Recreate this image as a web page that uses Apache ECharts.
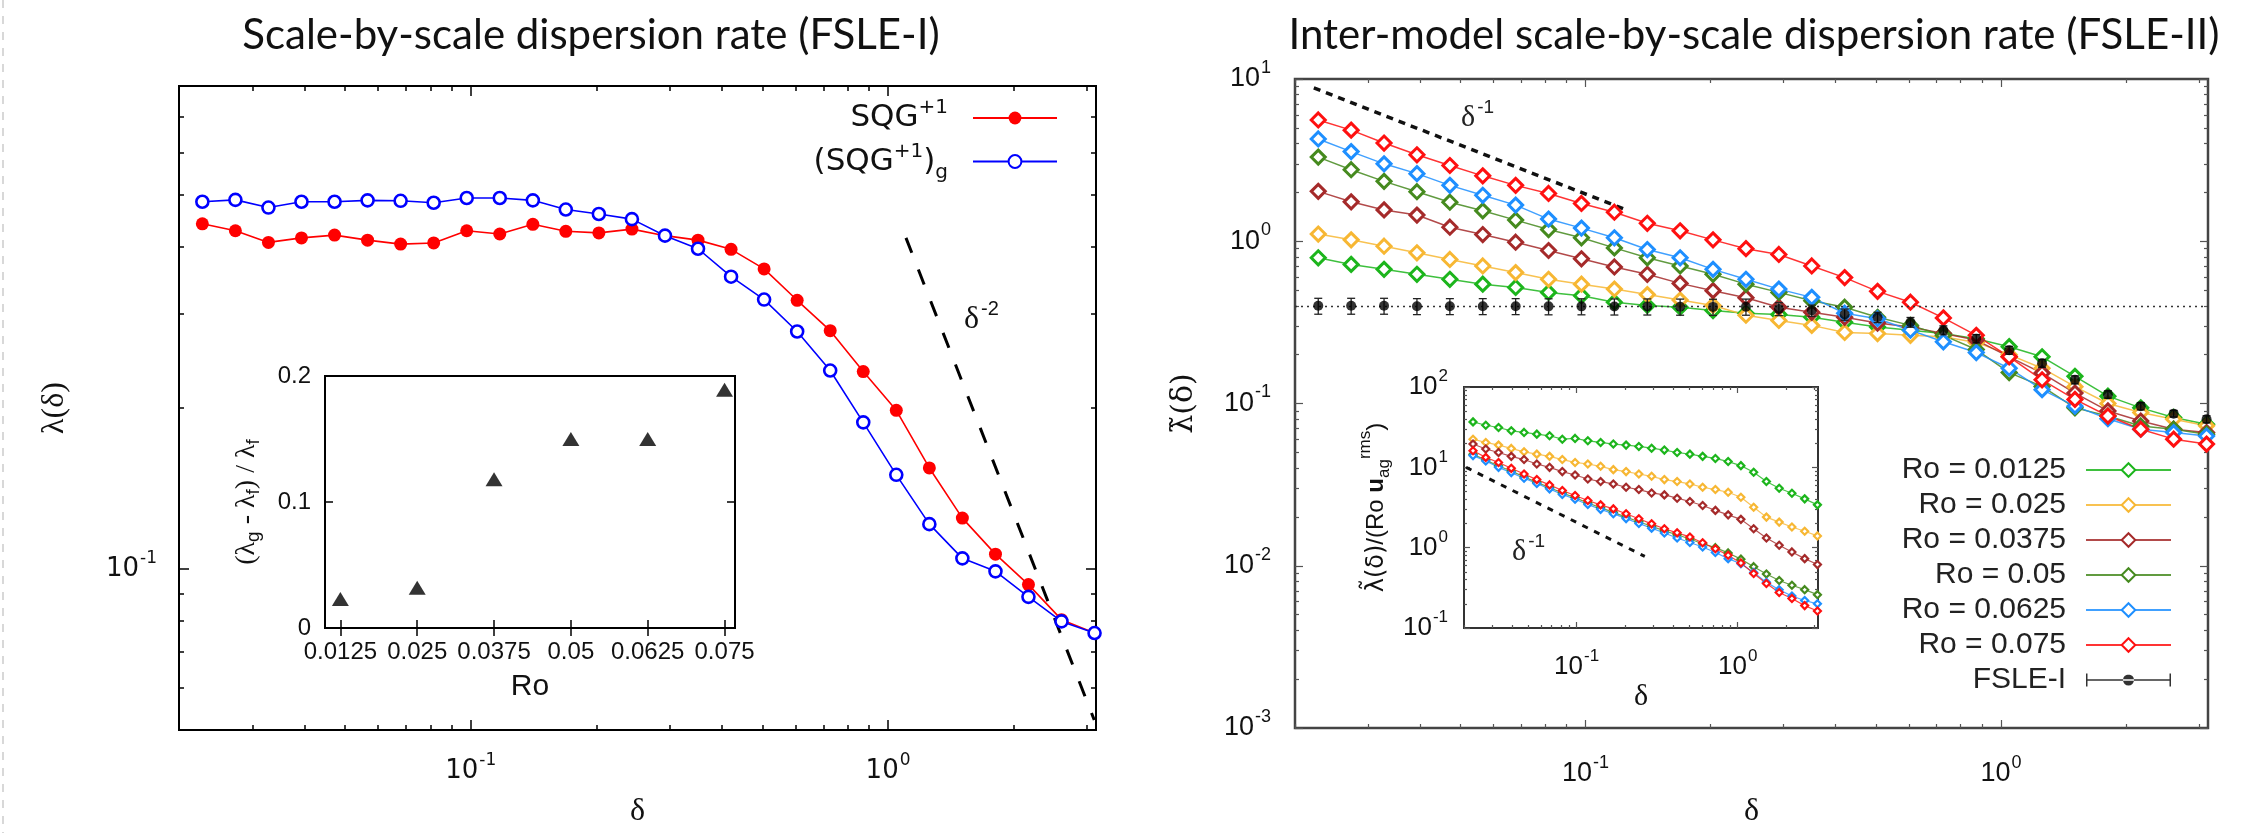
<!DOCTYPE html>
<html><head><meta charset="utf-8">
<script src="https://cdn.jsdelivr.net/npm/echarts@6/dist/echarts.min.js"></script>
<style>html,body{margin:0;padding:0;background:#fff}#c{width:2258px;height:833px}</style>
</head><body><div id="c"></div>
<script>
// ---------------- data ----------------
const delta = [0.02275, 0.0273, 0.03276, 0.03931, 0.04718, 0.05661, 0.06793, 0.08152, 0.09782, 0.1174, 0.1409, 0.169, 0.2028, 0.2434, 0.2921, 0.3505, 0.4206, 0.5047, 0.6057, 0.7268, 0.8722, 1.0466, 1.256, 1.507, 1.809, 2.17, 2.604, 3.125];
// left panel (FSLE-I)
const sqg  = [0.442, 0.429, 0.408, 0.416, 0.421, 0.412, 0.405, 0.407, 0.429, 0.423, 0.441, 0.428, 0.425, 0.432, 0.420, 0.412, 0.396, 0.364, 0.318, 0.279, 0.234, 0.198, 0.1545, 0.1245, 0.1066, 0.0935, 0.0804, 0.0759];
const sqgG = [0.486, 0.490, 0.474, 0.486, 0.486, 0.489, 0.488, 0.484, 0.494, 0.494, 0.489, 0.470, 0.461, 0.451, 0.420, 0.397, 0.352, 0.319, 0.278, 0.235, 0.188, 0.150, 0.1213, 0.1047, 0.099, 0.0887, 0.0798, 0.0759];
const slopeLeft = [[1.104, 0.416], [3.12, 0.0522]];
// left inset
const insetRo   = [0.0125, 0.025, 0.0375, 0.05, 0.0625, 0.075];
const insetDiff = [0.023, 0.032, 0.118, 0.15, 0.15, 0.189];
const insetRoTicks = [0.0125, 0.025, 0.0375, 0.05, 0.0625, 0.075];
const insetDiffTicks = [0, 0.1, 0.2];
// right panel (FSLE-II)
const roNames = ['Ro = 0.0125', 'Ro = 0.025', 'Ro = 0.0375', 'Ro = 0.05', 'Ro = 0.0625', 'Ro = 0.075'];
const roColors = ['#1cb51c', '#f7b733', '#a52a2a', '#458a1e', '#1e8fff', '#ff1010'];
const ro0125 = [0.791, 0.72, 0.671, 0.626, 0.583, 0.544, 0.519, 0.484, 0.462, 0.421, 0.402, 0.392, 0.374, 0.36, 0.354, 0.34, 0.317, 0.296, 0.283, 0.27, 0.251, 0.224, 0.194, 0.147, 0.111, 0.094, 0.082, 0.0744];
const ro025  = [1.108, 1.02, 0.932, 0.849, 0.772, 0.704, 0.641, 0.583, 0.544, 0.507, 0.469, 0.434, 0.402, 0.35, 0.325, 0.303, 0.274, 0.27, 0.263, 0.258, 0.238, 0.2, 0.165, 0.127, 0.1, 0.088, 0.08, 0.073];
const ro0375 = [2.03, 1.75, 1.56, 1.45, 1.22, 1.10, 0.986, 0.877, 0.78, 0.694, 0.626, 0.55, 0.496, 0.449, 0.392, 0.365, 0.34, 0.313, 0.296, 0.27, 0.246, 0.194, 0.154, 0.116, 0.09, 0.078, 0.0694, 0.0662];
const ro05   = [3.30, 2.76, 2.34, 2.02, 1.74, 1.54, 1.35, 1.18, 1.05, 0.91, 0.791, 0.704, 0.626, 0.544, 0.484, 0.43, 0.392, 0.34, 0.303, 0.263, 0.215, 0.155, 0.1275, 0.094, 0.0837, 0.0727, 0.0694, 0.0647];
const ro0625 = [4.27, 3.57, 3.00, 2.61, 2.21, 1.92, 1.67, 1.37, 1.205, 1.05, 0.889, 0.791, 0.671, 0.583, 0.507, 0.451, 0.36, 0.333, 0.283, 0.24, 0.206, 0.165, 0.1217, 0.0963, 0.0806, 0.0694, 0.0662, 0.063];
const ro075  = [5.59, 4.84, 4.03, 3.41, 2.93, 2.53, 2.21, 1.97, 1.71, 1.51, 1.29, 1.16, 1.02, 0.90, 0.829, 0.704, 0.597, 0.491, 0.421, 0.337, 0.263, 0.194, 0.140, 0.106, 0.0837, 0.0694, 0.0603, 0.0562];
const fsle    = [0.40, 0.40, 0.40, 0.398, 0.398, 0.398, 0.398, 0.397, 0.397, 0.396, 0.396, 0.395, 0.394, 0.395, 0.383, 0.374, 0.354, 0.34, 0.317, 0.283, 0.251, 0.213, 0.177, 0.14, 0.1137, 0.0963, 0.0866, 0.080];
const fsleErr = [0.045, 0.045, 0.045, 0.045, 0.045, 0.045, 0.045, 0.045, 0.045, 0.045, 0.045, 0.045, 0.045, 0.045, 0.035, 0.03, 0.028, 0.025, 0.022, 0.018, 0.015, 0.012, 0.01, 0.008, 0.006, 0.005, 0.004, 0.004];
const fslePlateau = 0.4;
const slopeRight = [[0.0222, 8.81], [0.127, 1.54]];
// right inset (normalised)
const in0125 = [36.8, 33.4, 31.3, 28.5, 27.2, 25.9, 24.7, 22.4, 22.9, 21.4, 20.4, 19.5, 18.9, 18.2, 17.3, 16.4, 15.3, 14.6, 13.7, 12.9, 11.8, 10.5, 8.67, 6.65, 5.5, 4.76, 4.05, 3.41];
const in025  = [22.4, 20.4, 18.9, 17.2, 15.6, 14.6, 13.7, 12.5, 11.5, 11.0, 10.3, 9.36, 8.85, 8.26, 7.73, 7.04, 6.65, 6.21, 5.65, 5.29, 4.9, 4.25, 3.19, 2.4, 2.08, 1.81, 1.6, 1.4];
const in0375 = [19.5, 16.9, 15.3, 13.7, 12.5, 11.0, 10.0, 8.85, 8.03, 7.16, 6.65, 6.21, 5.65, 5.29, 4.8, 4.54, 4.13, 3.76, 3.35, 2.91, 2.56, 2.25, 1.72, 1.32, 1.07, 0.885, 0.73, 0.616];
const in05   = [14.5, 12.3, 10.4, 9.0, 7.6, 6.5, 5.6, 4.8, 4.2, 3.6, 3.15, 2.75, 2.4, 2.1, 1.85, 1.62, 1.45, 1.28, 1.12, 1.0, 0.86, 0.72, 0.58, 0.47, 0.39, 0.34, 0.3, 0.26];
const in0625 = [14.0, 12.0, 10.0, 8.6, 7.3, 6.3, 5.4, 4.6, 4.0, 3.45, 3.0, 2.65, 2.3, 2.0, 1.75, 1.52, 1.32, 1.16, 1.02, 0.87, 0.73, 0.63, 0.49, 0.37, 0.3, 0.25, 0.22, 0.2];
const in075  = [16.1, 13.3, 11.5, 9.72, 8.26, 7.04, 6.04, 5.14, 4.46, 3.87, 3.41, 3.04, 2.64, 2.29, 1.98, 1.72, 1.53, 1.36, 1.15, 0.97, 0.805, 0.646, 0.477, 0.358, 0.277, 0.233, 0.19, 0.163];
const slopeInset = [[0.0206, 10], [0.265, 0.778]];
// tick labels
const deltaLabels = [0.1, 1];
const leftYLabels = [0.1];
const rightYLabels = [0.001, 0.01, 0.1, 1, 10];
const insetYLabels = [0.1, 1, 10, 100];

// ---------------- helpers ----------------
function minorLog(lo, hi) {
  const out = [];
  for (let e = -4; e <= 2; e++) for (let k = 2; k <= 9; k++) {
    const v = +(k * Math.pow(10, e)).toPrecision(3);
    if (v >= lo * 0.999 && v <= hi * 1.001) out.push(v);
  }
  return out;
}
function powFmt(v) { const e = Math.round(Math.log10(v)); return '{b|10}{s|' + (e < 0 ? '-' + (-e) : e) + '}'; }
function powRich(fs, ff) {
  return { b: { fontSize: fs, fontFamily: ff, color: '#111' }, s: { fontSize: Math.round(fs * 0.66), fontFamily: ff, color: '#111', padding: [0, 0, Math.round(fs * 0.8), 1] } };
}
const xAxes = [], yAxes = [];
function addAxes(list, dim, grid, o) {
  const pos = dim === 'x' ? ['bottom', 'top'] : ['left', 'right'];
  const startIdx = list.length;
  pos.forEach((p, pi) => {
    [true, false].forEach(isMajor => {
      const main = pi === 0 && isMajor;
      const ax = {
        type: o.type, gridIndex: grid, position: p, min: o.min, max: o.max,
        axisLine: { show: false }, splitLine: { show: false }, minorTick: { show: false },
        axisTick: { show: true, inside: true, length: isMajor ? o.majorLen : o.minorLen,
          customValues: isMajor ? o.major : o.minor, lineStyle: { color: o.tickColor, width: o.tickWidth } },
        axisLabel: { show: false }, axisPointer: { show: false }
      };
      if (o.type === 'log') ax.logBase = 10;
      if (main) {
        ax.axisLabel = { show: true, customValues: o.labels, formatter: o.fmt, margin: o.margin,
          rich: o.rich, fontSize: o.fs, fontFamily: o.ff, color: '#111' };
        if (o.name) {
          ax.name = o.name; ax.nameLocation = 'middle'; ax.nameGap = o.nameGap;
          if (dim === 'y') ax.nameRotate = 90;
          ax.nameTextStyle = Object.assign({ color: '#111' }, o.nameStyle);
        }
      }
      list.push(ax);
    });
  });
  return startIdx;
}
const serif = 'Liberation Serif';
const sans = 'Liberation Sans';
const deltaName = { fontSize: 32, fontFamily: serif };

// grid 0 : left main
const LX = addAxes(xAxes, 'x', 0, { type: 'log', min: 0.02, max: 3.15, major: [0.1, 1], minor: minorLog(0.02, 3.15), labels: deltaLabels,
  majorLen: 10, minorLen: 5, tickColor: '#000', tickWidth: 1.5, fmt: powFmt, rich: powRich(26, 'DejaVu Sans'), margin: 22,
  name: 'δ', nameGap: 66, nameStyle: deltaName });
const LY = addAxes(yAxes, 'y', 0, { type: 'log', min: 0.05, max: 0.8, major: [0.1], minor: minorLog(0.05, 0.8), labels: leftYLabels,
  majorLen: 10, minorLen: 5, tickColor: '#000', tickWidth: 1.5, fmt: powFmt, rich: powRich(26, 'DejaVu Sans'), margin: 22,
  name: 'λ(δ)', nameGap: 108, nameStyle: { fontSize: 32, fontFamily: serif } });
// grid 1 : left inset
const IX = addAxes(xAxes, 'x', 1, { type: 'value', min: 0.01, max: 0.0767, major: insetRoTicks, minor: [], labels: insetRoTicks,
  majorLen: 8, minorLen: 0, tickColor: '#000', tickWidth: 1.5, fmt: v => String(v), fs: 24, ff: sans, margin: 12,
  name: 'Ro', nameGap: 44, nameStyle: { fontSize: 30, fontFamily: sans } });
const IY = addAxes(yAxes, 'y', 1, { type: 'value', min: 0, max: 0.2, major: insetDiffTicks, minor: [], labels: insetDiffTicks,
  majorLen: 8, minorLen: 0, tickColor: '#000', tickWidth: 1.5, fmt: v => String(v), fs: 24, ff: sans, margin: 14,
  name: '(λ{sub|g} - λ{sub|f}) / λ{sub|f}', nameGap: 62,
  nameStyle: { fontSize: 28, fontFamily: serif, rich: { sub: { fontSize: 19, fontFamily: sans, padding: [14, 0, 0, 0] } } } });
// grid 2 : right main
const RX = addAxes(xAxes, 'x', 2, { type: 'log', min: 0.02, max: 3.15, major: [0.1, 1], minor: minorLog(0.02, 3.15), labels: deltaLabels,
  majorLen: 8, minorLen: 4, tickColor: '#555', tickWidth: 1.2, fmt: powFmt, rich: powRich(27, sans), margin: 26,
  name: 'δ', nameGap: 68, nameStyle: deltaName });
const RY = addAxes(yAxes, 'y', 2, { type: 'log', min: 0.001, max: 10, major: rightYLabels, minor: minorLog(0.001, 10), labels: rightYLabels,
  majorLen: 8, minorLen: 4, tickColor: '#555', tickWidth: 1.2, fmt: powFmt, rich: powRich(27, sans), margin: 24,
  name: 'λ\u0303(δ)', nameGap: 96, nameStyle: { fontSize: 30, fontFamily: 'DejaVu Serif' } });
// grid 3 : right inset
const JX = addAxes(xAxes, 'x', 3, { type: 'log', min: 0.02, max: 3.15, major: [0.1, 1], minor: minorLog(0.02, 3.15), labels: deltaLabels,
  majorLen: 6, minorLen: 3, tickColor: '#555', tickWidth: 1.2, fmt: powFmt, rich: powRich(26, sans), margin: 20,
  name: 'δ', nameGap: 54, nameStyle: { fontSize: 30, fontFamily: serif } });
const JY = addAxes(yAxes, 'y', 3, { type: 'log', min: 0.1, max: 100, major: insetYLabels, minor: minorLog(0.1, 100), labels: insetYLabels,
  majorLen: 6, minorLen: 3, tickColor: '#555', tickWidth: 1.2, fmt: powFmt, rich: powRich(26, sans), margin: 16,
  name: '{g|λ\u0303(δ)}{t|/(Ro }{b|u}{sub|ag}{sup|rms}{t|)}', nameGap: 68,
  nameStyle: { rich: {
    g: { fontSize: 24, fontFamily: 'DejaVu Sans', color: '#111' },
    t: { fontSize: 24, fontFamily: sans, color: '#111' },
    b: { fontSize: 24, fontFamily: sans, fontWeight: 'bold', color: '#111' },
    sub: { fontSize: 17, fontFamily: sans, color: '#111', padding: [16, 0, 0, 0] },
    sup: { fontSize: 17, fontFamily: sans, color: '#111', padding: [0, 0, 22, 0] } } } });

const pts = arr => delta.map((d, i) => [d, arr[i]]);
const series = [];
// left main
series.push({ name: 'SQG+1', type: 'line', xAxisIndex: LX, yAxisIndex: LY, data: pts(sqg), symbol: 'circle', symbolSize: 13,
  itemStyle: { color: '#ff0000' }, lineStyle: { color: '#ff0000', width: 1.6 }, z: 3 });
series.push({ name: '(SQG+1)g', type: 'line', xAxisIndex: LX, yAxisIndex: LY, data: pts(sqgG), symbol: 'circle', symbolSize: 12,
  itemStyle: { color: '#ffffff', borderColor: '#0000ff', borderWidth: 2.6 }, lineStyle: { color: '#0000ff', width: 1.6 }, z: 4 });
series.push({ name: 'slopeL', type: 'line', xAxisIndex: LX, yAxisIndex: LY, data: slopeLeft, symbol: 'none', silent: true,
  lineStyle: { color: '#000', width: 3, type: [16, 18] }, z: 2 });
// left inset
series.push({ name: 'diff', type: 'scatter', xAxisIndex: IX, yAxisIndex: IY, data: insetRo.map((r, i) => [r, insetDiff[i]]),
  symbol: 'triangle', symbolSize: [17, 14], itemStyle: { color: '#000' } });
// right main
const mainArrs = [ro0125, ro025, ro0375, ro05, ro0625, ro075];
const insetArrs = [in0125, in025, in0375, in05, in0625, in075];
mainArrs.forEach((arr, k) => {
  series.push({ name: roNames[k], type: 'line', xAxisIndex: RX, yAxisIndex: RY, data: pts(arr), symbol: 'diamond', symbolSize: 14,
    itemStyle: { color: '#ffffff', borderColor: roColors[k], borderWidth: 3 }, lineStyle: { color: roColors[k], width: 1.5, opacity: 0.85 }, z: 3 });
});
series.push({ name: 'slopeR', type: 'line', xAxisIndex: RX, yAxisIndex: RY, data: slopeRight, symbol: 'none', silent: true,
  lineStyle: { color: '#111', width: 3.5, type: [7, 6] }, z: 2 });
series.push({ name: 'err', type: 'custom', xAxisIndex: RX, yAxisIndex: RY, z: 5, silent: true,
  data: delta.map((d, i) => [d, fsle[i] - fsleErr[i], fsle[i] + fsleErr[i]]),
  encode: { x: 0, y: [1, 2] },
  renderItem: (params, api) => {
    const x = api.value(0), lo = api.value(1), hi = api.value(2);
    const a = api.coord([x, hi]), b = api.coord([x, lo]);
    const w = 4, st = { stroke: '#222', lineWidth: 1.3 };
    return { type: 'group', children: [
      { type: 'line', shape: { x1: a[0], y1: a[1], x2: b[0], y2: b[1] }, style: st },
      { type: 'line', shape: { x1: a[0] - w, y1: a[1], x2: a[0] + w, y2: a[1] }, style: st },
      { type: 'line', shape: { x1: b[0] - w, y1: b[1], x2: b[0] + w, y2: b[1] }, style: st } ] };
  } });
series.push({ name: 'FSLE-I', type: 'scatter', xAxisIndex: RX, yAxisIndex: RY, data: pts(fsle), symbol: 'circle', symbolSize: 10,
  itemStyle: { color: '#000' }, z: 6,
  markLine: { silent: true, symbol: ['none', 'none'], label: { show: false },
    lineStyle: { color: '#333', type: [2, 4], width: 1.3 }, data: [{ yAxis: fslePlateau }] } });
// right inset
insetArrs.forEach((arr, k) => {
  series.push({ name: 'in ' + roNames[k], type: 'line', xAxisIndex: JX, yAxisIndex: JY, data: pts(arr), symbol: 'diamond', symbolSize: 7,
    itemStyle: { color: '#ffffff', borderColor: roColors[k], borderWidth: 2.2 }, lineStyle: { color: roColors[k], width: 1.2, opacity: 0.8 }, z: 3 });
});
series.push({ name: 'slopeI', type: 'line', xAxisIndex: JX, yAxisIndex: JY, data: slopeInset, symbol: 'none', silent: true,
  lineStyle: { color: '#111', width: 3, type: [6, 7] }, z: 2 });

const legendRichL = {
  t: { fontSize: 31, fontFamily: 'DejaVu Sans', color: '#111' },
  sup: { fontSize: 20, fontFamily: 'DejaVu Sans', color: '#111', padding: [0, 0, 20, 0] },
  sub: { fontSize: 20, fontFamily: 'DejaVu Sans', color: '#111', padding: [22, 0, 0, 0] },
  gap: { width: 20 }
};
const legendLabelL = { 'SQG+1': '{t|SQG}{sup|+1}{gap|}', '(SQG+1)g': '{t|(SQG}{sup|+1}{t|)}{sub|g}{gap|}' };
const fsleIcon = 'path://M0,7.75h85v1.5h-85z M0,2h1.5v13h-1.5z M83.5,2h1.5v13h-1.5z M37,8.5a5.5,5.5 0 1,0 11,0a5.5,5.5 0 1,0 -11,0z M42.5,0h0.01v17h-0.01z';

const option = {
  animation: false,
  backgroundColor: '#ffffff',
  title: [
    { text: 'Scale-by-scale dispersion rate (FSLE-I)', left: 586, top: 9, textAlign: 'center',
      textStyle: { fontFamily: 'Lato', fontWeight: 'normal', fontSize: 42, color: '#111' } },
    { text: 'Inter-model scale-by-scale dispersion rate (FSLE-II)', left: 1749, top: 9, textAlign: 'center',
      textStyle: { fontFamily: 'Lato', fontWeight: 'normal', fontSize: 42, color: '#111' } }
  ],
  grid: [
    { left: 179, top: 86, width: 917, height: 654, show: true, borderColor: '#000', borderWidth: 2, backgroundColor: 'rgba(0,0,0,0)' },
    { left: 325, top: 376, width: 410, height: 252, show: true, borderColor: '#000', borderWidth: 2, backgroundColor: '#fff' },
    { left: 1295, top: 79, width: 913, height: 656, show: true, borderColor: '#444', borderWidth: 2.5, backgroundColor: 'rgba(0,0,0,0)' },
    { left: 1464, top: 387, width: 354, height: 241, show: true, borderColor: '#333', borderWidth: 2, backgroundColor: '#fff' }
  ],
  xAxis: xAxes, yAxis: yAxes,
  legend: [
    { data: ['SQG+1', '(SQG+1)g'], orient: 'vertical', align: 'right', right: 1200, top: 98, padding: 0,
      itemWidth: 84, itemHeight: 16, itemGap: 8, selectedMode: false,
      formatter: n => legendLabelL[n], textStyle: { rich: legendRichL } },
    { data: roNames.concat([{ name: 'FSLE-I', icon: fsleIcon }]), orient: 'vertical', align: 'right', right: 86, top: 455, padding: 0,
      itemWidth: 85, itemHeight: 17, itemGap: 5, selectedMode: false,
      formatter: n => '{t|' + n + '}{gap|}',
      textStyle: { rich: { t: { fontSize: 30, fontFamily: sans, color: '#222' }, gap: { width: 15 } } } }
  ],
  graphic: [
    { type: 'text', x: 964, y: 320, style: { text: '{d|δ}{s|-2}', verticalAlign: 'middle',
      rich: { d: { fontSize: 32, fontFamily: serif, fill: '#111' }, s: { fontSize: 20, fontFamily: sans, fill: '#111', padding: [0, 0, 22, 2] } } } },
    { type: 'text', x: 1461, y: 118, style: { text: '{d|δ}{s|-1}', verticalAlign: 'middle',
      rich: { d: { fontSize: 30, fontFamily: serif, fill: '#222' }, s: { fontSize: 19, fontFamily: sans, fill: '#222', padding: [0, 0, 20, 2] } } } },
    { type: 'text', x: 1512, y: 552, style: { text: '{d|δ}{s|-1}', verticalAlign: 'middle',
      rich: { d: { fontSize: 30, fontFamily: serif, fill: '#222' }, s: { fontSize: 19, fontFamily: sans, fill: '#222', padding: [0, 0, 20, 2] } } } },
    { type: 'line', shape: { x1: 3, y1: 0, x2: 3, y2: 833 }, style: { stroke: '#d8d8d8', lineWidth: 2, lineDash: [8, 8] } }
  ],
  series: series
};
const chart = echarts.init(document.getElementById('c'), null, { renderer: 'canvas' });
chart.setOption(option);
</script></body></html>
